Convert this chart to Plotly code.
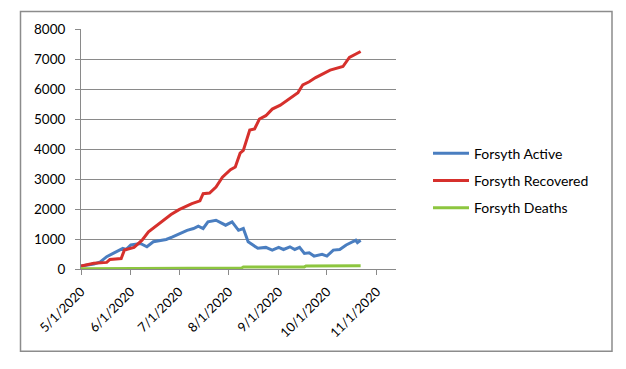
import plotly.graph_objects as go

# ---- data ----
recovered_dates = ["2020-05-01", "2020-05-09", "2020-05-17", "2020-05-19", "2020-05-26", "2020-05-28",
                   "2020-06-03", "2020-06-08", "2020-06-12", "2020-06-19", "2020-06-26", "2020-07-01",
                   "2020-07-09", "2020-07-14", "2020-07-16", "2020-07-20", "2020-07-24", "2020-07-28",
                   "2020-08-02", "2020-08-05", "2020-08-08", "2020-08-10", "2020-08-14", "2020-08-17",
                   "2020-08-20", "2020-08-24", "2020-08-28", "2020-09-02", "2020-09-06", "2020-09-10",
                   "2020-09-13", "2020-09-16", "2020-09-20", "2020-09-24", "2020-09-28", "2020-10-03",
                   "2020-10-11", "2020-10-15", "2020-10-22"]
recovered = [100, 190, 220, 320, 350, 630,
             720, 960, 1240, 1515, 1815, 1980,
             2180, 2270, 2510, 2530, 2730, 3060,
             3310, 3400, 3860, 3950, 4630, 4670,
             5000, 5110, 5330, 5460, 5610, 5770,
             5880, 6140, 6240, 6380, 6490, 6630,
             6750, 7050, 7250]

active_dates = ["2020-05-01", "2020-05-09", "2020-05-13", "2020-05-17", "2020-05-21", "2020-05-27",
                "2020-05-29", "2020-06-01", "2020-06-07", "2020-06-11", "2020-06-15", "2020-06-19",
                "2020-06-23", "2020-06-27", "2020-07-01", "2020-07-06", "2020-07-10", "2020-07-13",
                "2020-07-16", "2020-07-19", "2020-07-24", "2020-07-28", "2020-07-30", "2020-08-03",
                "2020-08-07", "2020-08-10", "2020-08-13", "2020-08-16", "2020-08-19", "2020-08-24",
                "2020-08-28", "2020-09-01", "2020-09-04", "2020-09-08", "2020-09-11", "2020-09-14",
                "2020-09-17", "2020-09-20", "2020-09-23", "2020-09-28", "2020-10-01", "2020-10-05",
                "2020-10-09", "2020-10-13", "2020-10-17", "2020-10-19", "2020-10-20", "2020-10-22"]
active = [100, 165, 240, 410, 520, 690,
          650, 800, 850, 740, 910, 940,
          985, 1070, 1160, 1290, 1350, 1430,
          1350, 1570, 1625, 1515, 1460, 1570,
          1290, 1350, 910, 800, 690, 720,
          630, 720, 650, 740, 650, 720,
          520, 540, 430, 490, 430, 630,
          650, 800, 910, 960, 880, 960]

deaths_dates = ["2020-05-01", "2020-05-30", "2020-05-31", "2020-08-09", "2020-08-10",
                "2020-09-17", "2020-09-18", "2020-10-22"]
deaths = [5, 10, 30, 35, 65, 70, 100, 105]

x_ticks = ["2020-05-01", "2020-06-01", "2020-07-01", "2020-08-01", "2020-09-01", "2020-10-01", "2020-11-01"]
x_tick_labels = ["5/1/2020", "6/1/2020", "7/1/2020", "8/1/2020", "9/1/2020", "10/1/2020", "11/1/2020"]
y_ticks = [0, 1000, 2000, 3000, 4000, 5000, 6000, 7000, 8000]

FONT = "Lato, 'Open Sans', sans-serif"
GRID = "#8a8a8a"

fig = go.Figure()
fig.add_trace(go.Scatter(x=active_dates, y=active, mode="lines", name="Forsyth Active",
                         line=dict(color="#4A7EC0", width=3), legendgroup="a"))
fig.add_trace(go.Scatter(x=recovered_dates, y=recovered, mode="lines", name="Forsyth Recovered",
                         line=dict(color="#D6302C", width=3), legendgroup="r"))
fig.add_trace(go.Scatter(x=deaths_dates, y=deaths, mode="lines", name="Forsyth Deaths",
                         line=dict(color="#8DC63F", width=3), legendgroup="d"))

# the page body adds an 8px offset; work in page pixels and subtract it
OFF = 8
W, H = 626 - OFF, 369 - OFF
L, R, T, B = 81 - OFF, 396 - OFF, 29 - OFF, 269.5 - OFF
pw, ph = R - L, B - T

def px_x(p):
    return (p - OFF - L) / pw

def px_y(p):
    return (B - (p - OFF)) / ph

fig.update_layout(
    width=W, height=H,
    margin=dict(l=L, r=W - R, t=T, b=H - B, autoexpand=False),
    paper_bgcolor="white", plot_bgcolor="white",
    font=dict(family=FONT, size=13, color="#000000"),
    showlegend=True,
    legend=dict(x=px_x(428), xanchor="left", y=px_y(181), yanchor="middle",
                font=dict(family=FONT, size=14, color="#000000"),
                tracegroupgap=6, bgcolor="rgba(0,0,0,0)", itemwidth=36),
    xaxis=dict(type="date", range=["2020-05-01", "2020-11-13"],
               tickmode="array", tickvals=x_ticks, ticktext=x_tick_labels,
               tickangle=-45, ticks="outside", ticklen=5, tickcolor=GRID,
               showgrid=False, showline=True, linecolor=GRID, linewidth=1,
               zeroline=False, tickfont=dict(family=FONT, size=13),
               ticklabelstandoff=4),
    yaxis=dict(range=[0, 8000], tickmode="array", tickvals=y_ticks,
               ticks="outside", ticklen=5, tickcolor=GRID,
               showgrid=True, gridcolor=GRID, gridwidth=1,
               showline=True, linecolor=GRID, linewidth=1, zeroline=False,
               tickfont=dict(family=FONT, size=13.5), ticklabelstandoff=7),
    shapes=[dict(type="rect", xref="paper", yref="paper",
                 x0=px_x(20.5), x1=px_x(612), y0=px_y(352), y1=px_y(11.5),
                 line=dict(color="#8c8c8c", width=1.5), fillcolor="rgba(0,0,0,0)",
                 layer="below")],
)

fig.write_html("out.html")
